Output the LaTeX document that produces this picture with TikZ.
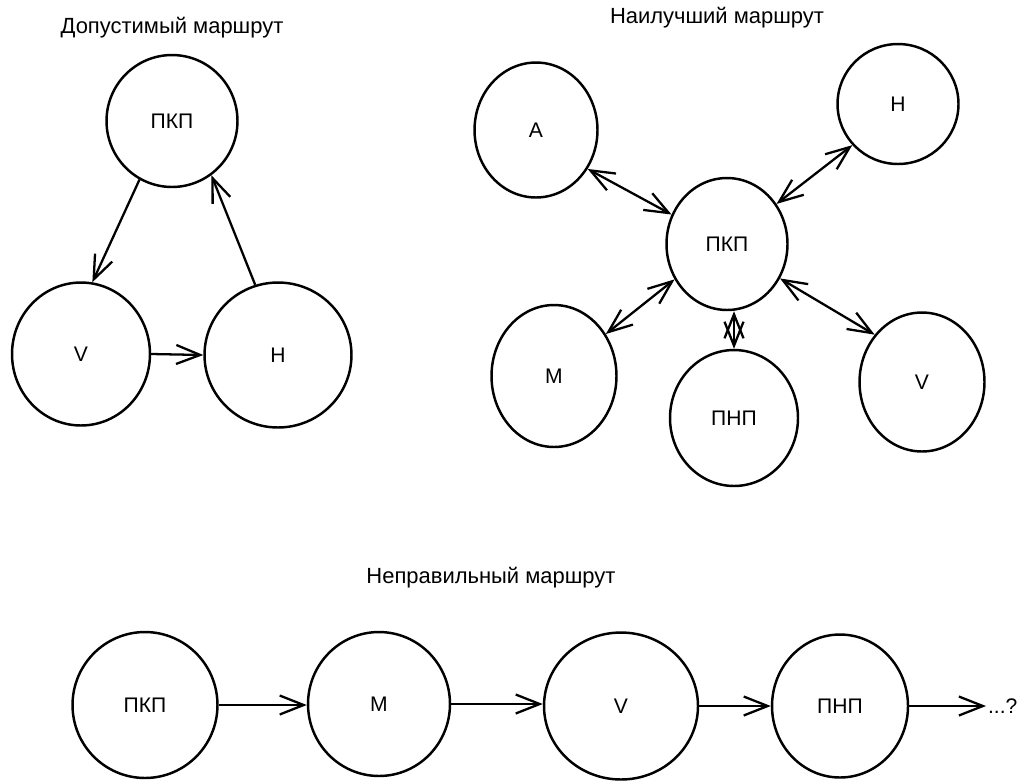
\documentclass[tikz,border=0pt]{standalone}
\usepackage{fontspec}
\setmainfont{Liberation Sans}
\usetikzlibrary{shapes.geometric,arrows.meta}
\tikzset{
  rnode/.style={ellipse, draw, line width=1.4pt, inner sep=0pt, font=\fontsize{12}{14}\selectfont},
  ttl/.style={inner sep=0pt, font=\fontsize{12.5}{15}\selectfont},
  barb/.style={Straight Barb[length=0.48cm, width=0.38cm, line width=1.3pt]},
  conn/.style={line width=1.3pt, -{Straight Barb[length=0.48cm, width=0.38cm, line width=1.3pt]}},
  bconn/.style={line width=1.3pt, {Straight Barb[length=0.48cm, width=0.38cm, line width=1.3pt]}-{Straight Barb[length=0.48cm, width=0.38cm, line width=1.3pt]}}
}
\begin{document}
\begin{tikzpicture}[x=0.02cm, y=-0.02cm]
\useasboundingbox (0,0) rectangle (1024,782);
% --- top left
\node[ttl] (t1) at (172,28) {Допустимый маршрут};
\node[rnode, minimum width=2.62cm, minimum height=2.64cm] (a1) at (172,121) {ПКП};
\node[rnode, minimum width=2.76cm, minimum height=2.86cm] (a2) at (81,354) {V};
\node[rnode, minimum width=2.94cm, minimum height=2.9cm] (a3) at (278,355) {Н};
\draw[conn] (a1.241) -- (a2.81);
\draw[conn] (a3.108) -- (a1.306);
\draw[conn] (a2.east) -- (a3.west);
% --- top right
\node[ttl] (t2) at (717,18) {Наилучший маршрут};
\node[rnode, minimum width=2.42cm, minimum height=2.64cm] (b0) at (727,244) {ПКП};
\node[rnode, minimum width=2.46cm, minimum height=2.7cm] (bA) at (536,130) {А};
\node[rnode, minimum width=2.42cm, minimum height=2.4cm] (bH) at (898,104) {Н};
\node[rnode, minimum width=2.5cm, minimum height=2.84cm] (bM) at (554,376) {М};
\node[rnode, minimum width=2.56cm, minimum height=2.72cm] (bP) at (734,418) {ПНП};
\node[rnode, minimum width=2.5cm, minimum height=2.78cm] (bV) at (922,382) {V};
\draw[bconn] (bA.323) -- (b0.152);
\draw[bconn] (bH.222) -- (b0.39);
\draw[bconn] (bM.39) -- (b0.214.7);
\draw[bconn] (bP.north) -- (bP.north |- b0.south);
\draw[bconn] (b0.327) -- (bV.135);
% --- bottom
\node[ttl] (t3) at (491,578) {Неправильный маршрут};
\node[rnode, minimum width=2.9cm, minimum height=2.92cm] (c1) at (145,705) {ПКП};
\node[rnode, minimum width=2.84cm, minimum height=2.88cm] (c2) at (379,704) {М};
\node[rnode, minimum width=3.08cm, minimum height=2.94cm] (c3) at (621,706) {V};
\node[rnode, minimum width=2.72cm, minimum height=2.86cm] (c4) at (840,706) {ПНП};
\node[inner sep=1pt, anchor=west, font=\fontsize{12}{14}\selectfont] (c5) at (986,706) {...?};
\draw[conn] (c1.east) -- (c2.west |- c1.east);
\draw[conn] (c2.east) -- (c3.west |- c2.east);
\draw[conn] (c3.east) -- (c4.west |- c3.east);
\draw[conn] (c4.east) -- (c5.west);
\end{tikzpicture}
\end{document}
